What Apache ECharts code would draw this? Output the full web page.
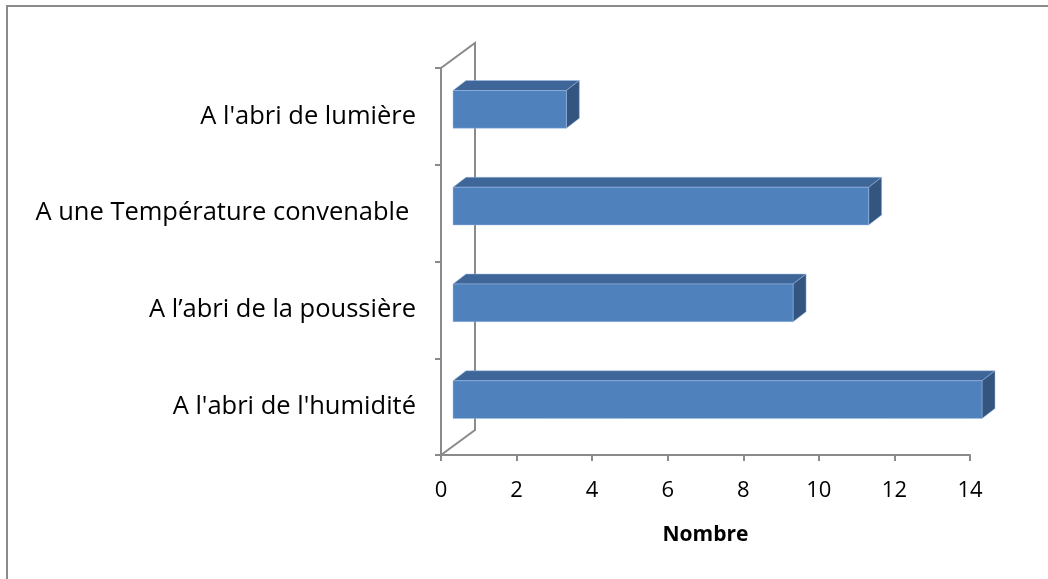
<!DOCTYPE html>
<html>
<head>
<meta charset="utf-8">
<script src="https://cdn.jsdelivr.net/npm/echarts@6/dist/echarts.min.js"></script>
<style>
  html, body { margin: 0; padding: 0; background: #fff; }
  #chart { width: 1048px; height: 579px; }
</style>
</head>
<body>
<div id="chart"></div>
<script>
// données (de bas en haut, comme dans Excel)
var categories = [
  "A l'abri de l'humidité",
  "A l’abri de la poussière",
  "A une Température convenable ",
  "A l'abri de lumière"
];
var values = [14, 9, 11, 3];
var xTicks = [0, 2, 4, 6, 8, 10, 12, 14];

(function() {
  var myChart = echarts.init(document.getElementById("chart"));
  var axisGray = "#8a8a8a";
  var font = "'Open Sans', 'Liberation Sans', sans-serif";

  // paroi du fond (effet 3D)
  function renderWall(params, api) {
    var cs = params.coordSys;
    var dx = 34, dy = -25;
    return {
      type: "polyline",
      shape: {
        points: [
          [cs.x, cs.y],
          [cs.x + dx, cs.y + dy],
          [cs.x + dx, cs.y + cs.height + dy],
          [cs.x, cs.y + cs.height]
        ]
      },
      style: { stroke: axisGray, lineWidth: 2, fill: null }
    };
  }

  // barres 3D
  function renderBar(params, api) {
    var idx = api.value(1);
    var p0 = api.coord([0, idx]);
    var p1 = api.coord([api.value(0), idx]);
    var band = api.size([0, 1])[1];
    var h = band * 0.39;
    var dx = 13, dy = -10;
    var x0 = p0[0] + 12;
    var x1 = p1[0] + 12;
    var y0 = p0[1] - 7 - h / 2;
    var y1 = y0 + h;
    var edge = "rgba(160,190,230,0.6)";
    return {
      type: "group",
      children: [
        {
          type: "polygon",
          shape: { points: [[x0, y0], [x0 + dx, y0 + dy], [x1 + dx, y0 + dy], [x1, y0]] },
          style: { fill: "#3f6698", stroke: edge, lineWidth: 0.8 }
        },
        {
          type: "polygon",
          shape: { points: [[x1, y0], [x1 + dx, y0 + dy], [x1 + dx, y1 + dy], [x1, y1]] },
          style: { fill: "#33557f", stroke: edge, lineWidth: 0.8 }
        },
        {
          type: "rect",
          shape: { x: x0, y: y0, width: x1 - x0, height: h },
          style: { fill: "#4f81bd", stroke: edge, lineWidth: 0.8 }
        }
      ]
    };
  }

  var option = {
    animation: false,
    backgroundColor: "#fff",
    graphic: [
      {
        type: "rect",
        shape: { x: 7, y: 6, width: 1200, height: 800 },
        style: { fill: null, stroke: axisGray, lineWidth: 2 },
        silent: true
      }
    ],
    grid: {
      left: 441,
      top: 68,
      right: 78,
      bottom: 124,
      containLabel: false
    },
    xAxis: {
      type: "value",
      min: xTicks[0],
      max: xTicks[xTicks.length - 1],
      interval: 2,
      name: "Nombre",
      nameLocation: "middle",
      nameGap: 70,
      nameTextStyle: { color: "#000", fontSize: 21, fontWeight: "bold", fontFamily: font },
      axisLine: { show: true, lineStyle: { color: axisGray, width: 2 } },
      axisTick: { show: true, length: 6, lineStyle: { color: axisGray, width: 2 } },
      axisLabel: { color: "#000", fontSize: 22, fontFamily: font, margin: 25 },
      splitLine: { show: false }
    },
    yAxis: {
      type: "category",
      data: categories,
      axisLine: { show: true, lineStyle: { color: axisGray, width: 2 } },
      axisTick: { show: true, length: 6, lineStyle: { color: axisGray, width: 2 } },
      axisLabel: { color: "#000", fontSize: 25.5, fontFamily: font, margin: 25 }
    },
    series: [
      {
        type: "custom",
        name: "wall",
        renderItem: renderWall,
        data: [[0, 0]],
        encode: { x: 0, y: 1 },
        z: 1,
        silent: true
      },
      {
        type: "custom",
        name: "Nombre",
        renderItem: renderBar,
        data: values.map(function(v, i) { return [v, i]; }),
        encode: { x: 0, y: 1 },
        z: 2
      }
    ]
  };

  myChart.setOption(option);
  window.addEventListener("resize", function() {
    myChart.resize();
  });
})();
</script>
</body>
</html>
